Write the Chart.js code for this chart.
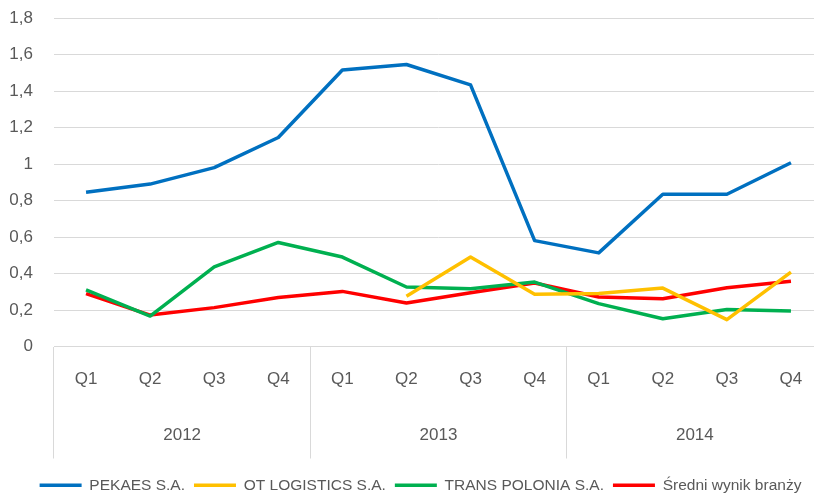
<!DOCTYPE html>
<html>
<head>
<meta charset="utf-8">
<script src="https://cdn.jsdelivr.net/npm/chart.js@4"></script>
<style>
  html, body { margin: 0; padding: 0; background: #fff; overflow: hidden; }
  #wrap { width: 814px; height: 497px; overflow: hidden; }
</style>
</head>
<body>
<div id="wrap"><canvas id="chart" width="823" height="503"></canvas></div>
<script>
// ── Data ──────────────────────────────────────────────────
const quarters = ['Q1','Q2','Q3','Q4','Q1','Q2','Q3','Q4','Q1','Q2','Q3','Q4'];
const years    = ['2012','2013','2014'];

const pekaes       = [0.845, 0.89, 0.98, 1.145, 1.515, 1.545, 1.434, 0.58, 0.513, 0.834, 0.834, 1.007];
const otLogistics  = [null, null, null, null, null, 0.275, 0.49, 0.286, 0.29, 0.32, 0.147, 0.408];
const transPolonia = [0.31, 0.167, 0.436, 0.57, 0.49, 0.326, 0.317, 0.353, 0.235, 0.152, 0.203, 0.194];
const sredniBranzy = [0.29, 0.172, 0.213, 0.268, 0.302, 0.238, 0.295, 0.348, 0.271, 0.262, 0.322, 0.357];

const yTicks = [0, 0.2, 0.4, 0.6, 0.8, 1, 1.2, 1.4, 1.6, 1.8];

/* ── Styling ────────────────────────────────────────────── */
const FONT = "'Liberation Sans', Arial, sans-serif";
const GREY = '#595959';
const GRID = '#d9d9d9';

const line = (label, data, color) => ({
  label, data,
  borderColor: color, backgroundColor: color,
  borderWidth: 3.5, pointRadius: 0, tension: 0,
  borderJoinStyle: 'round', fill: false,
});

// nudge the legend a little to the right, like the original
const legendShift = {
  id: 'legendShift',
  afterLayout(chart) {
    chart.legend.left += 9;
    chart.legend.right += 9;
  },
};

new Chart(document.getElementById('chart'), {
  type: 'line',
  data: {
    labels: quarters,
    datasets: [
      line('PEKAES S.A.',        pekaes,       '#0070c0'),
      line('OT LOGISTICS S.A.',  otLogistics,  '#ffc000'),
      line('TRANS POLONIA S.A.', transPolonia, '#00b050'),
      line('Średni wynik branży', sredniBranzy, '#ff0000'),
    ],
  },
  plugins: [legendShift],
  options: {
    responsive: false,
    animation: false,
    layout: { padding: { top: 18, right: 0, bottom: 0, left: 0 } },
    plugins: {
      tooltip: { enabled: false },
      legend: {
        position: 'bottom',
        labels: {
          usePointStyle: true,
          pointStyle: 'line',
          pointStyleWidth: 42,
          boxHeight: 4,
          padding: 9,
          color: GREY,
          font: { family: FONT, size: 15.5 },
        },
      },
    },
    scales: {
      y: {
        min: 0, max: 1.8,
        afterBuildTicks: s => { s.ticks = yTicks.map(v => ({ value: v })); },
        afterFit: s => { s.width = 54; s.paddingTop = 0; s.paddingBottom = 0; },
        border: { display: false },
        grid: { color: GRID, lineWidth: 1, drawTicks: false },
        ticks: {
          padding: 21,
          color: GREY,
          font: { family: FONT, size: 17 },
          callback: v => String(Math.round(v * 10) / 10).replace('.', ','),
        },
      },
      x: {
        weight: 0,
        offset: true,
        afterFit: s => { s.height = 43; },
        border: { display: true, color: GRID },
        grid: {
          offset: true,
          drawOnChartArea: false,
          tickLength: 112,
          color: c => (c.index === undefined || c.index % 4 === 0) ? GRID : 'rgba(0,0,0,0)',
        },
        ticks: {
          padding: -89,
          maxRotation: 0,
          autoSkip: false,
          color: GREY,
          font: { family: FONT, size: 17 },
        },
      },
      x2: {
        type: 'category',
        position: 'bottom',
        weight: 1,
        labels: years,
        offset: true,
        afterFit: s => { s.height = 79; },
        border: { display: false },
        grid: { display: false, drawTicks: false },
        ticks: {
          padding: 36,
          color: GREY,
          font: { family: FONT, size: 17 },
        },
      },
    },
  },
});
</script>
</body>
</html>
